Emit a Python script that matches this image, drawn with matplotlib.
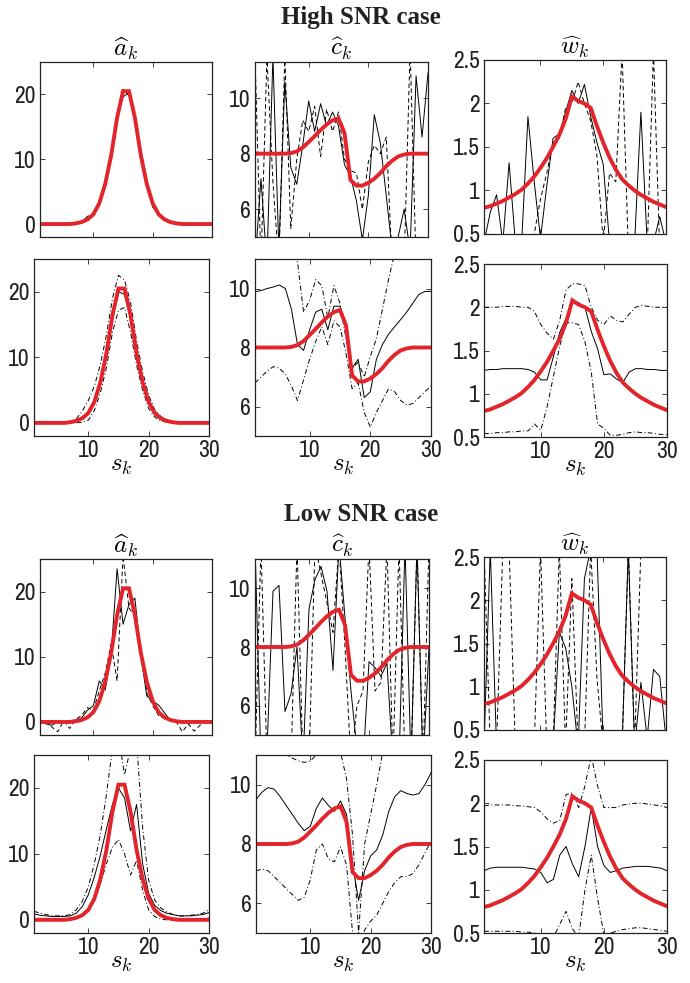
import matplotlib
matplotlib.use("Agg")
import matplotlib.pyplot as plt

plt.rcParams['font.family'] = ['Archivo Narrow', 'Roboto Condensed', 'Liberation Sans', 'DejaVu Sans']
plt.rcParams['mathtext.fontset'] = 'cm'

# sample index
s = list(range(1, 31))

# true parameters (red)
a_true = [0, 0, 0, 0, 0, 0, 0.1, 0.3, 0.7, 1.5, 3.2, 6.2, 10.6, 16.4, 20.5,
          20.5, 16.4, 10.6, 6.2, 3.2, 1.5, 0.7, 0.3, 0.1, 0, 0, 0, 0, 0, 0]
c_true = [8, 8, 8, 8, 8, 8, 8.02, 8.08, 8.22, 8.42, 8.63, 8.85, 9.05, 9.2, 9.27,
          8.75, 7.05, 6.85, 6.85, 6.95, 7.1, 7.3, 7.55, 7.75, 7.9, 7.97, 8, 8, 8, 8]
w_true = [0.8, 0.82, 0.85, 0.88, 0.92, 0.96, 1.01, 1.08, 1.16, 1.26, 1.37, 1.5, 1.64, 1.82, 2.08,
          2.03, 2.0, 1.95, 1.74, 1.55, 1.38, 1.24, 1.13, 1.06, 1.0, 0.95, 0.91, 0.87, 0.84, 0.81]

# ---- High SNR ----
# pointwise estimates
a1_solid = [0, 0, 0, 0, 0, 0, 0.1, 0.3, 1.2, 1.4, 3.0, 6.5, 10.3, 16.8, 19.6,
            20.3, 16.0, 11.5, 6.8, 2.6, 1.6, 0.6, 0.3, 0.1, 0, 0, 0, 0, 0, 0]
a1_dash = [-0.1, 0, 0, -0.1, 0, 0, 0.2, 0.4, 0.6, 1.7, 3.5, 6.0, 11.0, 16.0, 20.8,
           19.8, 17.0, 10.0, 5.8, 3.5, 1.3, 0.9, 0.2, 0, -0.1, 0, 0, 0, 0, 0]
c1_solid = [4.0, 7.1, 4.0, 11.5, 4.5, 10.6, 7.5, 6.9, 8.3, 9.9, 8.8, 9.8, 9.0, 9.5, 9.0,
            7.6, 7.2, 6.3, 4.9, 6.5, 9.4, 8.4, 6.5, 4.5, 5.0, 6.0, 4.5, 10.8, 8.6, 10.9]
c1_dash = [11.5, 4.0, 11.5, 7.0, 4.0, 11.5, 5.3, 7.8, 9.2, 8.8, 9.7, 7.9, 9.6, 8.8, 9.5,
           7.8, 7.4, 7.3, 6.0, 7.7, 8.3, 8.0, 8.6, 4.0, 4.0, 4.0, 11.8, 4.0, 4.0, 4.0]
w1_solid = [0.4, 0.75, 0.95, 0.4, 1.32, 0.4, 0.4, 1.85, 1.1, 0.45, 1.05, 1.6, 1.65, 1.9, 2.15,
            2.0, 2.22, 1.85, 1.55, 1.3, 0.4, 0.4, 0.4, 0.4, 0.4, 1.9, 0.4, 0.4, 0.7, 0.4]
w1_dash = [0.3, 0.3, 0.3, 0.3, 0.3, 0.3, 0.3, 0.3, 0.5, 0.9, 1.2, 1.55, 1.6, 1.95, 2.0,
           2.25, 2.0, 1.8, 1.4, 0.4, 1.2, 1.1, 2.6, 0.3, 0.3, 0.3, 0.3, 2.6, 0.3, 0.3]

# smoothed estimates with bounds
a2_solid = [0, 0, 0, 0, 0, 0, 0.1, 0.3, 0.8, 1.6, 3.3, 6.4, 10.5, 16.0, 20.0,
            19.6, 16.0, 10.6, 6.3, 3.3, 1.6, 0.8, 0.3, 0.1, 0, 0, 0, 0, 0, 0]
a2_upper = [0, 0, 0, 0, 0, 0, 0.2, 0.6, 1.8, 3.4, 5.6, 8.9, 13.4, 19.0, 22.5,
            21.8, 18.4, 12.5, 7.8, 4.2, 2.0, 1.0, 0.4, 0.1, 0, 0, 0, 0, 0, 0]
a2_lower = [0, 0, 0, 0, 0, 0, 0, 0, 0.1, 0.4, 1.9, 4.6, 8.4, 13.8, 17.2,
            17.6, 13.8, 8.8, 5.0, 2.2, 0.9, 0.3, 0.1, 0, 0, 0, 0, 0, 0, 0]
c2_solid = [9.89, 9.93, 10.0, 10.05, 10.12, 10.0, 9.3, 8.1, 7.9, 8.6, 9.2, 9.3, 8.6, 9.4, 9.4,
            8.8, 7.3, 7.6, 6.3, 6.5, 7.6, 8.1, 8.45, 8.7, 8.95, 9.2, 9.5, 9.8, 9.9, 9.9]
c2_upper = [11.6, 11.6, 11.6, 11.6, 11.5, 11.4, 11.2, 10.9, 9.2, 9.6, 10.3, 10.1, 9.0, 10.1, 9.5,
            8.3, 7.3, 7.5, 7.0, 7.7, 8.3, 9.3, 10.3, 11.2, 11.6, 11.6, 11.6, 11.6, 11.6, 11.6]
c2_lower = [6.8, 7.0, 7.2, 7.35, 7.3, 7.1, 6.7, 6.2, 6.9, 7.6, 8.2, 8.7, 8.1, 8.9, 8.7,
            7.8, 6.6, 6.8, 5.8, 5.3, 5.8, 6.2, 6.6, 6.5, 6.2, 6.05, 6.1, 6.3, 6.5, 6.7]
w2_solid = [1.27, 1.28, 1.28, 1.29, 1.29, 1.29, 1.29, 1.28, 1.25, 1.16, 1.16, 1.43, 1.71, 1.87, 2.05,
            2.05, 2.0, 1.72, 1.52, 1.22, 1.23, 1.17, 1.13, 1.25, 1.29, 1.29, 1.28, 1.28, 1.27, 1.27]
w2_upper = [2.0, 2.0, 2.0, 2.01, 2.01, 2.01, 2.0, 2.0, 1.95, 1.8, 1.7, 1.63, 1.85, 2.2, 2.27,
            2.27, 2.25, 2.0, 1.85, 1.8, 1.9, 1.85, 1.83, 1.92, 2.0, 2.02, 2.01, 2.0, 2.0, 2.0]
w2_lower = [0.54, 0.54, 0.55, 0.55, 0.56, 0.56, 0.57, 0.57, 0.65, 0.58, 0.85, 1.2, 1.55, 1.82, 1.82,
            1.8, 1.6, 1.25, 0.65, 0.6, 0.52, 0.52, 0.53, 0.55, 0.56, 0.55, 0.55, 0.54, 0.53, 0.53]

# ---- Low SNR ----
a3_solid = [0.2, -0.3, -0.5, 0, 0, 0.2, 0.3, 0.6, 1.8, 2.5, 6.3, 4.9, 10.5, 23.5, 15.0,
            18.0, 19.0, 10.2, 4.0, 3.2, 2.6, 1.4, 0.2, 0.1, -0.2, 0, 0.1, 0, -0.1, 0.2]
a3_dash = [-0.2, 0.3, -0.8, -1.5, 0.2, -1.0, 0.4, 1.0, 2.2, 1.8, 4.8, 7.5, 12.0, 6.3, 25.5,
           17.5, 16.2, 11.5, 4.5, 2.5, 1.0, 0.5, 0.3, 0, -1.5, -0.3, -1.4, -0.5, 0.2, -0.2]
c3_solid = [11.5, 4.0, 4.5, 9.9, 10.1, 5.8, 6.4, 8.0, 4.0, 9.3, 10.3, 10.75, 9.9, 7.2, 11.5,
            9.0, 6.5, 4.5, 4.0, 7.5, 7.3, 7.0, 7.45, 4.0, 4.0, 11.5, 4.0, 11.5, 4.0, 8.0]
c3_dash = [4.0, 11.5, 4.0, 4.0, 4.0, 4.0, 4.0, 11.5, 4.0, 4.0, 11.5, 10.5, 9.5, 8.5, 11.5,
           8.0, 4.0, 6.0, 6.5, 11.5, 6.5, 6.8, 11.5, 4.0, 11.5, 4.0, 4.0, 11.5, 4.0, 11.5]
w3_solid = [0.3, 2.6, 0.3, 0.3, 0.3, 0.3, 0.3, 0.3, 0.3, 0.3, 0.3, 0.3, 1.63, 1.45, 1.0,
            0.3, 2.25, 2.6, 2.6, 0.3, 0.3, 0.3, 0.3, 2.6, 0.3, 1.05, 0.4, 1.2, 1.12, 0.4]
w3_dash = [2.6, 0.3, 0.3, 2.6, 2.6, 0.3, 0.3, 0.3, 0.3, 2.6, 0.3, 0.3, 2.6, 0.3, 2.25,
           0.3, 0.3, 2.6, 1.1, 0.3, 0.3, 0.3, 0.3, 2.6, 0.3, 2.6, 2.6, 2.6, 2.6, 2.6]

a4_solid = [0.9, 0.7, 0.6, 0.5, 0.5, 0.5, 0.6, 1.0, 2.0, 3.8, 6.5, 9.8, 13.8, 17.5, 20.0,
            18.5, 13.5, 17.5, 8.5, 4.0, 2.2, 1.4, 1.0, 0.8, 0.6, 0.6, 0.6, 0.7, 0.8, 1.1]
a4_upper = [1.3, 1.0, 0.8, 0.6, 0.6, 0.6, 0.8, 1.5, 2.8, 5.0, 8.5, 13.0, 19.0, 26.0, 28.0,
            22.0, 26.0, 27.0, 14.0, 6.0, 3.0, 1.8, 1.2, 0.8, 0.6, 0.6, 0.7, 0.8, 1.0, 1.5]
a4_lower = [0.2, 0.1, 0, 0, 0, 0, 0, 0.2, 0.6, 1.4, 3.0, 5.5, 8.5, 11.0, 12.2,
            10.0, 6.8, 9.0, 4.5, 1.5, 0.5, 0.1, 0, 0, 0, 0, 0, 0, 0, 0.3]
c4_solid = [9.5, 9.75, 9.9, 9.85, 9.6, 9.3, 9.0, 8.7, 8.45, 8.6, 9.2, 9.55, 9.3, 9.1, 9.45,
            9.0, 7.3, 6.1, 7.1, 7.6, 7.8, 8.3, 9.1, 9.6, 9.8, 9.7, 9.65, 9.7, 10.0, 10.4]
c4_upper = [11.6, 11.6, 11.5, 11.3, 11.2, 11.0, 10.9, 10.8, 10.75, 10.8, 11.0, 11.3, 11.4, 11.3, 11.1,
            10.2, 8.3, 5.0, 8.0, 9.0, 10.0, 11.1, 11.6, 11.6, 11.6, 11.6, 11.6, 11.6, 11.6, 11.6]
c4_lower = [7.1, 7.15, 7.1, 6.9, 6.7, 6.5, 6.3, 6.1, 6.2, 6.8, 7.8, 8.0, 7.5, 7.4, 7.9,
            7.3, 5.0, 4.5, 5.1, 5.4, 5.6, 6.0, 6.4, 6.7, 6.9, 6.9, 7.0, 7.3, 7.7, 8.1]
w4_solid = [1.22, 1.25, 1.26, 1.26, 1.26, 1.26, 1.26, 1.25, 1.24, 1.2, 1.08, 1.12, 1.4, 1.5, 1.3,
            1.15, 1.5, 1.95, 1.5, 1.28, 1.2, 1.22, 1.25, 1.26, 1.27, 1.27, 1.27, 1.26, 1.25, 1.22]
w4_upper = [1.97, 1.98, 1.98, 1.98, 1.98, 1.97, 1.97, 1.96, 1.95, 1.9, 1.82, 1.77, 1.8, 2.1, 2.12,
            1.95, 2.2, 2.55, 2.2, 1.95, 1.95, 1.95, 1.98, 1.99, 2.0, 2.0, 1.99, 1.98, 1.97, 1.95]
w4_lower = [0.52, 0.52, 0.52, 0.52, 0.52, 0.52, 0.51, 0.51, 0.5, 0.48, 0.45, 0.45, 0.6, 0.75, 0.55,
            0.45, 1.0, 1.4, 0.9, 0.48, 0.5, 0.52, 0.54, 0.55, 0.56, 0.56, 0.55, 0.54, 0.53, 0.52]

titles = [r'$\widehat{a}_k$', r'$\widehat{c}_k$', r'$\widehat{w}_k$']
ylims = [(-2, 25), (5, 11), (0.5, 2.5)]
yticks = [[0, 10, 20], [6, 8, 10], [0.5, 1, 1.5, 2, 2.5]]
yticklabels = [['0', '10', '20'], ['6', '8', '10'], ['0.5', '1', '1.5', '2', '2.5']]
truths = [a_true, c_true, w_true]

# axes boxes in pixels: left, top, right, bottom
W, H = 690, 983
boxes = [
    [(40, 62, 212, 237), (255, 62, 428, 237), (484, 60, 666, 234)],
    [(34, 259, 209, 436), (255, 259, 431, 436), (484, 264, 667, 437)],
    [(40, 559, 212, 735), (255, 559, 429, 735), (484, 557, 666, 730)],
    [(34, 755, 209, 933), (256, 755, 431, 933), (484, 760, 667, 933)],
]

noisy = {0: [(a1_solid, a1_dash), (c1_solid, c1_dash), (w1_solid, w1_dash)],
         2: [(a3_solid, a3_dash), (c3_solid, c3_dash), (w3_solid, w3_dash)]}
smooth = {1: [(a2_solid, a2_upper, a2_lower), (c2_solid, c2_upper, c2_lower), (w2_solid, w2_upper, w2_lower)],
          3: [(a4_solid, a4_upper, a4_lower), (c4_solid, c4_upper, c4_lower), (w4_solid, w4_upper, w4_lower)]}

red = '#e3242b'
dashed = (0, (4.5, 3))
dashdot = (0, (5, 2.5, 1, 2.5))

fig = plt.figure(figsize=(W / 100, H / 100), dpi=100)

for r in range(4):
    for c in range(3):
        l, t, rr, b = boxes[r][c]
        ax = fig.add_axes([l / W, 1 - b / H, (rr - l) / W, (b - t) / H])
        if r in noisy:
            y1, y2 = noisy[r][c]
            ax.plot(s, y1, color='k', lw=0.7)
            ax.plot(s, y2, color='k', lw=0.7, linestyle=dashed)
        else:
            y1, yu, yl = smooth[r][c]
            ax.plot(s, y1, color='k', lw=0.7)
            ax.plot(s, yu, color='k', lw=0.7, linestyle=dashdot)
            ax.plot(s, yl, color='k', lw=0.7, linestyle=dashdot)
        ax.plot(s, truths[c], color=red, lw=2.8, solid_joinstyle='miter')

        ax.set_xlim(1, 30)
        if r == 0 and c == 1:
            ax.set_ylim(5, 11.3)
        else:
            ax.set_ylim(*ylims[c])
        ax.set_xticks([10, 20, 30])
        ax.set_yticks(yticks[c])
        ax.set_yticklabels(yticklabels[c])
        ax.tick_params(direction='in', length=3.5, width=0.6, top=True, right=True,
                       labelsize=17, pad=3, colors='#222222')
        for sp in ax.spines.values():
            sp.set_linewidth(0.9)
            sp.set_color('#222222')
        if r in (0, 2):
            ax.set_xticklabels([])
            ax.set_title(titles[c], fontsize=18, pad=1)
        else:
            ax.set_xlabel(r'$s_k$', fontsize=18, labelpad=-5)

fig.text(361 / W, 1 - 24 / H, 'High SNR case', ha='center', va='baseline',
         family='Liberation Serif', weight='bold', fontsize=18, color='#222222')
fig.text(361 / W, 1 - 521 / H, 'Low SNR case', ha='center', va='baseline',
         family='Liberation Serif', weight='bold', fontsize=18, color='#222222')

fig.savefig('out.png', dpi=100)
